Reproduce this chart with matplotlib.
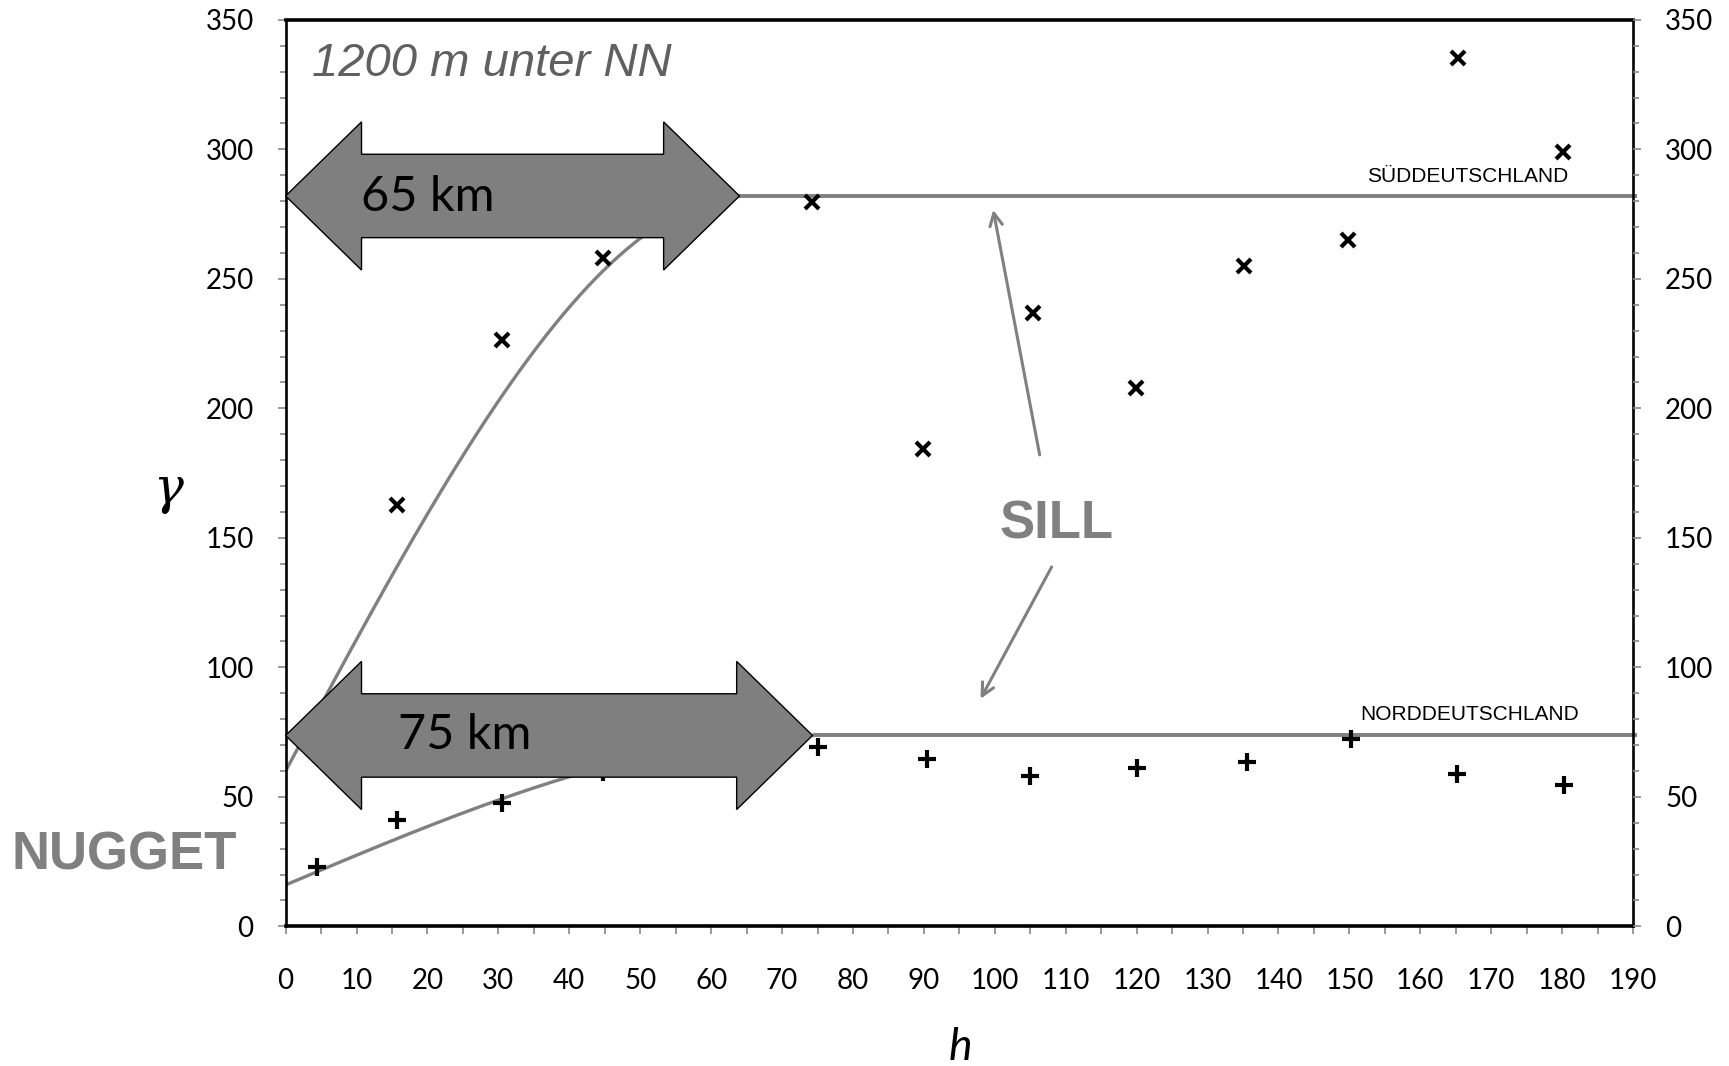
import numpy as np
import matplotlib
matplotlib.use("Agg")
import matplotlib.pyplot as plt
from matplotlib.patches import Polygon

# ---- data -------------------------------------------------------------
h_sued = [15.7, 30.5, 44.8, 74.2, 89.9, 105.4, 119.9, 135.1, 149.8, 165.3, 180.1]
g_sued = [162.7, 226.4, 258.0, 279.8, 184.4, 236.8, 207.8, 255.1, 264.9, 335.2, 299.0]

h_nord = [4.4, 15.7, 30.5, 44.8, 75.0, 90.4, 105.0, 120.0, 135.5, 150.2, 165.2, 180.2]
g_nord = [23.0, 40.9, 47.7, 59.6, 69.4, 64.7, 57.9, 61.3, 63.5, 72.4, 58.8, 54.5]

# spherical model parameters (nugget, sill, range)
nugget = [60.0, 16.0]
sill = [282.0, 73.7]
model_range = [65.0, 75.0]
arrow_tip = [64.0, 74.3]
range_labels = ["65 km", "75 km"]
region_labels = ["SÜDDEUTSCHLAND", "NORDDEUTSCHLAND"]

x_ticks = list(range(0, 191, 10))
y_ticks = list(range(0, 351, 50))

GRAY = "#808080"
TICK_GRAY = "#868686"


def spherical(h, c0, c, a):
    h = np.asarray(h, dtype=float)
    r = np.clip(h / a, 0, 1)
    return c0 + (c - c0) * (1.5 * r - 0.5 * r ** 3)


def block_arrow(ax, x_tip, y, head_len=10.7, head_half=28.6, shaft_half=16.1):
    pts = [
        (0, y),
        (head_len, y + head_half),
        (head_len, y + shaft_half),
        (x_tip - head_len, y + shaft_half),
        (x_tip - head_len, y + head_half),
        (x_tip, y),
        (x_tip - head_len, y - head_half),
        (x_tip - head_len, y - shaft_half),
        (head_len, y - shaft_half),
        (head_len, y - head_half),
    ]
    poly = Polygon(pts, closed=True, facecolor="#7f7f7f", edgecolor="black",
                   linewidth=1.0, zorder=5, clip_on=False)
    ax.add_patch(poly)


fig = plt.figure(figsize=(17.29, 10.66), dpi=100)
ax = fig.add_axes([0.1652, 0.131, 0.7793, 0.8504])

# model curves
for i in range(2):
    hh = np.linspace(0, model_range[i], 300)
    mask = hh <= arrow_tip[i]
    ax.plot(hh[mask], spherical(hh[mask], nugget[i], sill[i], model_range[i]),
            color=GRAY, lw=2.4, zorder=2)
    ax.plot([arrow_tip[i], 190.6], [sill[i], sill[i]], color=GRAY, lw=2.8,
            zorder=2, clip_on=False, solid_capstyle="butt")

# experimental points
ax.plot(h_sued, g_sued, linestyle="none", marker="x", ms=10.5, mew=3.0,
        color="black", zorder=3)
ax.plot(h_nord, g_nord, linestyle="none", marker="+", ms=13.5, mew=3.0,
        color="black", zorder=3)

# range arrows
for i in range(2):
    block_arrow(ax, arrow_tip[i], sill[i])

ax.text(20.1, 281.6, range_labels[0], fontsize=35, family="Lato",
        ha="center", va="center", zorder=6)
ax.text(25.3, 73.7, range_labels[1], fontsize=35, family="Lato",
        ha="center", va="center", zorder=6)

# region labels
ax.text(166.7, 289.6, region_labels[0], fontsize=15, family="Liberation Sans",
        ha="center", va="center")
ax.text(166.9, 81.8, region_labels[1], fontsize=15, family="Liberation Sans",
        ha="center", va="center")

# SILL annotation
ax.text(108.7, 155.0, "SILL", fontsize=38, fontweight="bold", color=GRAY,
        family="Liberation Sans", ha="center", va="center")
ax.annotate("", xy=(99.7, 277.7), xytext=(106.4, 181.0),
            arrowprops=dict(arrowstyle="->,head_length=0.9,head_width=0.45",
                            color=GRAY, lw=2.2))
ax.annotate("", xy=(97.8, 86.9), xytext=(108.2, 139.7),
            arrowprops=dict(arrowstyle="->,head_length=0.9,head_width=0.45",
                            color=GRAY, lw=2.2))

# axes styling
ax.set_xlim(0, 190)
ax.set_ylim(0, 350)
ax.set_xticks(x_ticks)
ax.set_xticks(np.arange(5, 190, 10), minor=True)
ax.set_yticks(y_ticks)
ax.set_yticks(np.arange(0, 351, 10), minor=True)

for side in ["top", "bottom"]:
    ax.spines[side].set_linewidth(2.6)
    ax.spines[side].set_color("black")
for side in ["left", "right"]:
    ax.spines[side].set_linewidth(1.9)
    ax.spines[side].set_color("black")

ax.tick_params(axis="y", which="major", length=6, width=1.2, color=TICK_GRAY,
               pad=17, labelsize=20)
ax.tick_params(axis="y", which="minor", length=4, width=1.2, color=TICK_GRAY)
ax.tick_params(axis="x", which="both", direction="out", length=6, width=1.2,
               color=TICK_GRAY, pad=24, labelsize=20)
for lab in ax.get_xticklabels() + ax.get_yticklabels():
    lab.set_family("Lato")

ax2 = ax.twinx()
ax2.set_ylim(0, 350)
ax2.set_yticks(y_ticks)
ax2.set_yticks(np.arange(0, 351, 10), minor=True)
ax2.tick_params(axis="y", which="major", length=6, width=1.2, color=TICK_GRAY,
                pad=17, labelsize=20)
ax2.tick_params(axis="y", which="minor", length=4, width=1.2, color=TICK_GRAY)
for lab in ax2.get_yticklabels():
    lab.set_family("Lato")
for side in ax2.spines:
    ax2.spines[side].set_visible(False)

# titles / labels
fig.text(312 / 1729, 1 - 63.5 / 1066, "1200 m unter NN", fontsize=34,
         style="italic", color="#606060", family="Liberation Sans",
         ha="left", va="center")
fig.text(124 / 1729, 1 - 855 / 1066, "NUGGET", fontsize=38, fontweight="bold",
         color=GRAY, family="Liberation Sans", ha="center", va="center")
fig.text(168 / 1729, 1 - 489 / 1066, "γ", fontsize=36, style="italic",
         family="DejaVu Serif", ha="center", va="center")
fig.text(960 / 1729, 1 - 1047 / 1066, "h", fontsize=32, style="italic",
         family="Lato", ha="center", va="center")

fig.savefig("out.png", dpi=100)
